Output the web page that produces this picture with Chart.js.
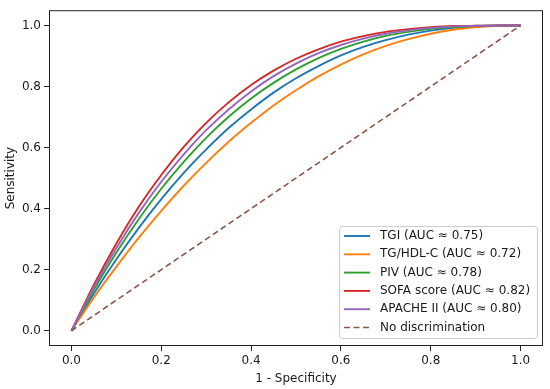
<!DOCTYPE html>
<html><head><meta charset="utf-8">
<script src="https://cdn.jsdelivr.net/npm/chart.js@4.4.0/dist/chart.umd.min.js"></script>
<style>html,body{margin:0;padding:0;background:#fff}</style>
</head><body>
<canvas id="c" width="550" height="389"></canvas>
<script>
const fpr      = [0,0.05,0.10,0.15,0.20,0.25,0.30,0.35,0.40,0.45,0.50,0.55,0.60,0.65,0.70,0.75,0.80,0.85,0.90,0.95,1.00];
const sensTGI  = [0,0.122,0.234,0.337,0.431,0.517,0.594,0.664,0.725,0.780,0.827,0.867,0.902,0.930,0.952,0.970,0.983,0.992,0.997,0.999,1.0];
const sensTGHDL= [0,0.109,0.210,0.305,0.393,0.475,0.550,0.619,0.681,0.738,0.788,0.833,0.872,0.905,0.933,0.955,0.973,0.986,0.994,0.999,1.0];
const sensPIV  = [0,0.134,0.256,0.366,0.465,0.553,0.632,0.701,0.761,0.812,0.856,0.893,0.923,0.947,0.966,0.979,0.989,0.995,0.998,1.0,1.0];
const sensSOFA = [0,0.151,0.286,0.406,0.510,0.602,0.681,0.748,0.805,0.852,0.891,0.922,0.947,0.965,0.979,0.988,0.994,0.998,0.999,1.0,1.0];
const sensAPACHE=[0,0.143,0.271,0.386,0.488,0.578,0.657,0.725,0.784,0.834,0.875,0.909,0.936,0.957,0.973,0.984,0.992,0.997,0.999,1.0,1.0];
const diagX = [0,1];
const diagY = [0,1];
const seriesNames = ['TGI (AUC \u2248 0.75)','TG/HDL-C (AUC \u2248 0.72)','PIV (AUC \u2248 0.78)','SOFA score (AUC \u2248 0.82)','APACHE II (AUC \u2248 0.80)','No discrimination'];
const seriesColors = ['#1f77b4','#ff7f0e','#2ca02c','#d62728','#9467bd','#8c564b'];
const tickVals = [0,0.2,0.4,0.6,0.8,1.0];

const FONT = "'DejaVu Sans', sans-serif";
const FS = 12;
const toPts = (xs, ys) => xs.map((x, i) => ({x: x, y: ys[i]}));
const allSeries = [sensTGI, sensTGHDL, sensPIV, sensSOFA, sensAPACHE];
const datasets = allSeries.map((s, i) => ({
  label: seriesNames[i], data: toPts(fpr, s), borderColor: seriesColors[i],
  borderWidth: 1.9, pointRadius: 0, fill: false, cubicInterpolationMode: 'monotone', order: 10 - i
}));
datasets.push({label: seriesNames[5], data: toPts(diagX, diagY), borderColor: seriesColors[5],
  borderWidth: 1.6, borderDash: [6, 3.5], pointRadius: 0, fill: false, order: 0});

const framePlugin = {
  id: 'frame',
  afterDatasetsDraw(chart) {
    const ctx = chart.ctx, a = chart.chartArea;
    ctx.save();
    const bw = 198, bh = 112;
    const bx = a.right - 6 - bw, by = a.bottom - 8 - bh;
    ctx.beginPath();
    ctx.roundRect(bx + 0.5, by + 0.5, bw, bh, 3);
    ctx.fillStyle = 'rgba(255,255,255,0.8)';
    ctx.fill();
    ctx.strokeStyle = '#cccccc';
    ctx.lineWidth = 1;
    ctx.stroke();
    ctx.font = FS + 'px ' + FONT;
    ctx.textBaseline = 'middle';
    ctx.textAlign = 'left';
    chart.data.datasets.forEach((ds, i) => {
      const y = by + 10 + i * 18.3;
      ctx.beginPath();
      ctx.setLineDash(ds.borderDash || []);
      ctx.strokeStyle = ds.borderColor;
      ctx.lineWidth = ds.borderWidth;
      ctx.moveTo(bx + 5, y);
      ctx.lineTo(bx + 31, y);
      ctx.stroke();
      ctx.setLineDash([]);
      ctx.fillStyle = '#1a1a1a';
      ctx.fillText(ds.label, bx + 41, y);
    });
    ctx.strokeStyle = '#222';
    ctx.lineWidth = 1;
    ctx.strokeRect(a.left + 0.5, a.top + 0.5, a.right - a.left - 1, a.bottom - a.top - 1);
    ctx.restore();
  }
};

const scaleCommon = {
  type: 'linear', min: -0.05, max: 1.05,
  grid: {display: true, drawOnChartArea: false, drawTicks: true, tickLength: 5, color: '#222', tickWidth: 1},
  border: {display: false},
  afterBuildTicks: (s) => { s.ticks = tickVals.map(v => ({value: v})); },
  ticks: {color: '#1a1a1a', font: {family: FONT, size: FS}, padding: 3, autoSkip: false, maxRotation: 0,
    callback: (v) => Number(v).toFixed(1)},
  title: {display: true, color: '#1a1a1a', font: {family: FONT, size: FS}}
};

new Chart(document.getElementById('c'), {
  type: 'line',
  data: {datasets: datasets},
  options: {
    responsive: false, animation: false, devicePixelRatio: 1,
    layout: {padding: {left: 4, right: 7, top: 7, bottom: 3}},
    plugins: {legend: {display: false}, tooltip: {enabled: false}},
    scales: {
      x: Object.assign({}, scaleCommon, {position: 'bottom',
        title: Object.assign({}, scaleCommon.title, {text: '1 - Specificity', padding: {top: 2, bottom: 0}}),
        afterFit: (s) => { s.height = 40; }}),
      y: Object.assign({}, scaleCommon, {position: 'left',
        title: Object.assign({}, scaleCommon.title, {text: 'Sensitivity', padding: {top: 0, bottom: 2}}),
        afterFit: (s) => { s.width = 45; }})
    }
  },
  plugins: [framePlugin]
});
</script>
</body></html>
